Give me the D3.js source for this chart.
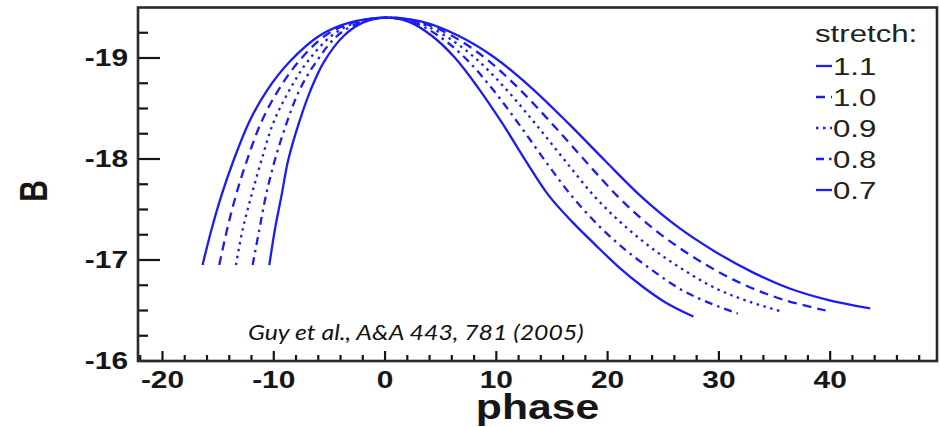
<!DOCTYPE html>
<html>
<head>
<meta charset="utf-8">
<script src="https://cdn.jsdelivr.net/npm/d3@7"></script>
<style>
  html, body { margin: 0; padding: 0; background: #fff; }
  svg { display: block; }
</style>
</head>
<body>
<svg width="940" height="427"></svg>
<script>
// stretch values, in legend order
const stretches = [1.1, 1.0, 0.9, 0.8, 0.7];
const legendLabels = ["1.1", "1.0", "0.9", "0.8", "0.7"];

// light curves: [phase (days), B magnitude]
const curve11 = [[-16.4,-16.95],[-15.6,-17.30],[-14.7,-17.64],[-13.6,-17.99],[-12.2,-18.37],[-10.6,-18.68],[-8.6,-18.96],[-5.9,-19.22],[-3.2,-19.35],[0,-19.40],[3.3,-19.36],[6.6,-19.22],[9.9,-19.0],[13.2,-18.7],[16.5,-18.35],[19.8,-17.98],[23.1,-17.62],[26.4,-17.32],[29.7,-17.08],[33.0,-16.88],[36.3,-16.72],[39.6,-16.61],[43.6,-16.52]];
const curve10 = [[-14.9,-16.95],[-14.2,-17.30],[-13.4,-17.64],[-12.4,-17.99],[-11.1,-18.37],[-9.6,-18.68],[-7.8,-18.96],[-5.4,-19.22],[-2.9,-19.35],[0,-19.40],[3,-19.36],[6,-19.22],[9,-19.0],[12,-18.7],[15,-18.35],[18,-17.98],[21,-17.62],[24,-17.32],[27,-17.08],[30,-16.88],[33,-16.72],[36,-16.6],[39.6,-16.5]];
const curve09 = [[-13.4,-16.95],[-12.8,-17.30],[-12.0,-17.64],[-11.1,-17.99],[-10.0,-18.37],[-8.6,-18.68],[-7.0,-18.96],[-4.8,-19.22],[-2.6,-19.35],[0,-19.40],[2.7,-19.36],[5.4,-19.22],[8.1,-19.0],[10.8,-18.7],[13.5,-18.35],[16.2,-17.98],[18.9,-17.62],[21.6,-17.33],[24.3,-17.09],[27.0,-16.89],[29.7,-16.72],[32.4,-16.6],[35.6,-16.49]];
const curve08 = [[-11.9,-16.95],[-11.3,-17.30],[-10.7,-17.64],[-9.9,-17.99],[-8.8,-18.37],[-7.7,-18.68],[-6.2,-18.96],[-4.3,-19.22],[-2.3,-19.35],[0,-19.40],[2.4,-19.36],[4.8,-19.22],[7.2,-19.0],[9.6,-18.7],[12.0,-18.35],[14.4,-17.98],[16.8,-17.63],[19.2,-17.34],[21.6,-17.1],[24.0,-16.9],[26.4,-16.72],[28.8,-16.59],[31.7,-16.47]];
const curve07 = [[-10.4,-16.95],[-9.9,-17.30],[-9.3,-17.64],[-8.7,-17.99],[-7.7,-18.37],[-6.7,-18.68],[-5.5,-18.96],[-3.7,-19.22],[-2.0,-19.35],[0,-19.40],[2.1,-19.36],[4.2,-19.22],[6.3,-19.0],[8.4,-18.7],[10.5,-18.36],[12.6,-17.99],[14.7,-17.64],[16.8,-17.38],[18.9,-17.15],[21.0,-16.93],[23.1,-16.74],[25.2,-16.58],[27.7,-16.44]];
const curves = [curve11, curve10, curve09, curve08, curve07];

// axis ticks
const xTicks = [-20, -10, 0, 10, 20, 30, 40];
const yTicks = [-19, -18, -17, -16];

const citation = "Guy et al., A&A 443, 781 (2005)";

const svg = d3.select("svg");
const blue = "#1c1cf5";
const ink = "#161616";
const dashes = [null, "9,6", "2.5,4.5", "8,5,2.5,5", null];
const sx = 1.3; // the original picture is stretched sideways

const x = d3.scaleLinear().domain([-22.2, 49.6]).range([138, 937]);
const y = d3.scaleLinear().domain([-16, -19.5]).range([361, 7.5]);

// minor ticks
const xMinor = d3.range(-22, 49.6, 2).filter(v => v % 10 !== 0);
const yMinor = d3.range(-16.25, -19.5, -0.25).filter(v => v % 1 !== 0);

const ax = svg.append("g").attr("stroke", ink).attr("stroke-width", 2.2);
ax.selectAll("line.ymin").data(yMinor).enter().append("line")
  .attr("x1", x.range()[0]).attr("x2", x.range()[0] + 10)
  .attr("y1", d => y(d)).attr("y2", d => y(d));
ax.selectAll("line.ymaj").data(yTicks).enter().append("line")
  .attr("x1", x.range()[0]).attr("x2", x.range()[0] + 22)
  .attr("y1", d => y(d)).attr("y2", d => y(d));
ax.selectAll("line.xmin").data(xMinor).enter().append("line")
  .attr("x1", d => x(d)).attr("x2", d => x(d))
  .attr("y1", y.range()[0]).attr("y2", y.range()[0] - 6);
ax.selectAll("line.xmaj").data(xTicks).enter().append("line")
  .attr("x1", d => x(d)).attr("x2", d => x(d))
  .attr("y1", y.range()[0]).attr("y2", y.range()[0] - 10);

// frame
svg.append("rect")
  .attr("x", x.range()[0]).attr("y", y.range()[1])
  .attr("width", x.range()[1] - x.range()[0])
  .attr("height", y.range()[0] - y.range()[1])
  .attr("fill", "none").attr("stroke", "#2a2a2a").attr("stroke-width", 2.6);

// tick labels
const lab = svg.append("g")
  .attr("font-family", "'Liberation Sans', Arial, sans-serif")
  .attr("font-weight", "bold").attr("font-size", 23).attr("fill", ink);
lab.selectAll("text.y").data(yTicks).enter().append("text")
  .attr("transform", d => `translate(${x.range()[0] - 10},${y(d)}) scale(${sx},1)`)
  .attr("text-anchor", "end").attr("dy", "0.36em")
  .text(d => String(d));
lab.selectAll("text.x").data(xTicks).enter().append("text")
  .attr("transform", d => `translate(${x(d)},${y.range()[0] + 27}) scale(${sx},1)`)
  .attr("text-anchor", "middle")
  .text(d => String(d));

// axis titles
lab.append("text")
  .attr("transform", `translate(${(x.range()[0] + x.range()[1]) / 2},419) scale(1.22,1)`)
  .attr("text-anchor", "middle").attr("font-size", 35).text("phase");
lab.append("text")
  .attr("transform", `translate(47,191) scale(${sx},1) rotate(-90)`)
  .attr("text-anchor", "middle").attr("font-size", 30).text("B");

// curves
const line = d3.line().x(d => x(d[0])).y(d => y(d[1])).curve(d3.curveCatmullRom.alpha(0.5));
svg.append("g").selectAll("path").data(curves).enter().append("path")
  .attr("d", line)
  .attr("fill", "none").attr("stroke", blue).attr("stroke-width", 2.3)
  .attr("stroke-dasharray", (d, i) => dashes[i]);

// legend
const leg = svg.append("g")
  .attr("font-family", "'Liberation Sans', Arial, sans-serif")
  .attr("font-size", 24).attr("fill", "#222");
leg.append("text").attr("transform", `translate(815,42) scale(${sx},1)`).text("stretch:");
const rows = leg.selectAll("g.row").data(stretches).enter().append("g")
  .attr("transform", (d, i) => `translate(816,${75 + i * 31})`);
rows.append("line")
  .attr("x1", 0).attr("x2", 16).attr("y1", -9).attr("y2", -9)
  .attr("stroke", blue).attr("stroke-width", 2.3)
  .attr("stroke-dasharray", (d, i) => dashes[i]);
rows.append("text").attr("transform", `translate(17,0) scale(${sx},1)`)
  .text((d, i) => legendLabels[i]);

// citation
svg.append("text")
  .attr("transform", "translate(248,340) scale(1.13,1)")
  .attr("font-family", "Lato, 'Open Sans', sans-serif")
  .attr("font-style", "italic").attr("font-size", 22).attr("fill", "#111")
  .text(citation);
</script>
</body>
</html>
